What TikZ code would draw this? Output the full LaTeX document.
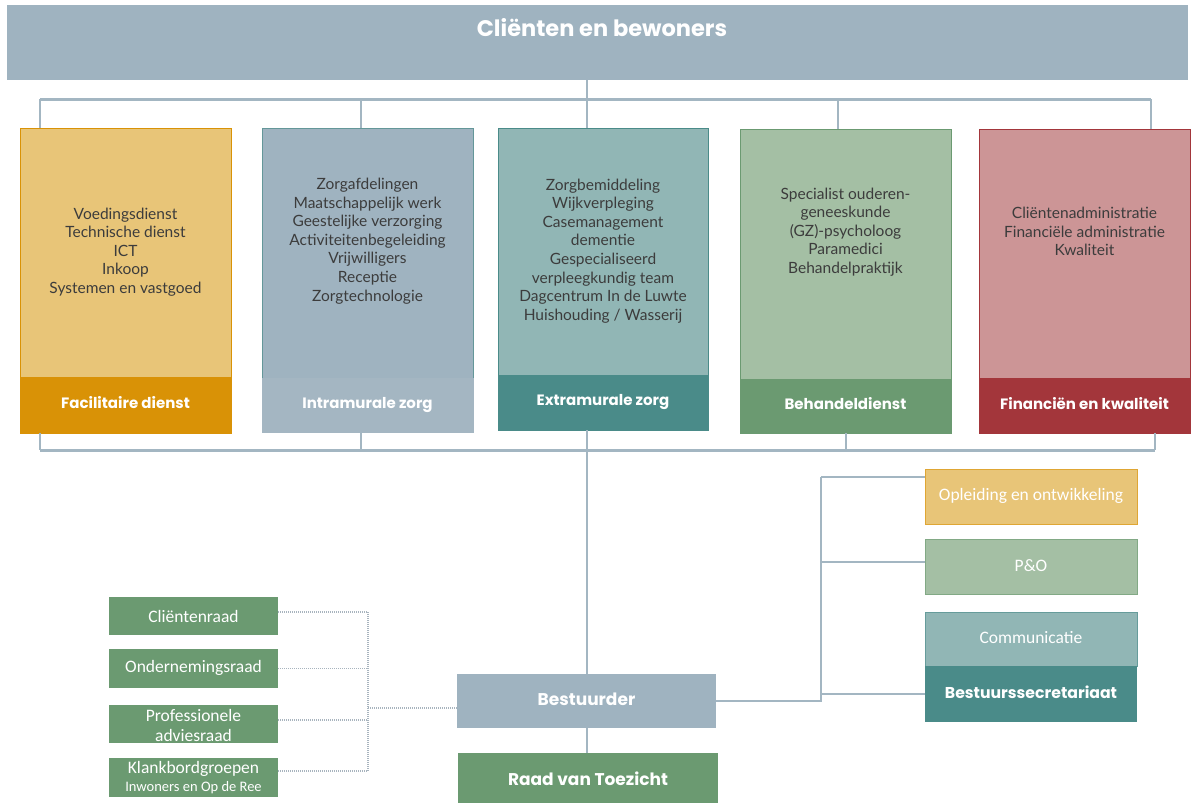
\documentclass[tikz,border=0pt]{standalone}
\usepackage{fontspec}
\setmainfont{Lato}
\newfontfamily\headfont{Poppins}
\newfontfamily\calfont{Carlito}

\definecolor{banner}{HTML}{9FB3C0}
\definecolor{yelL}{HTML}{E8C578}
\definecolor{yelD}{HTML}{D99206}
\definecolor{bluL}{HTML}{9FB3C0}
\definecolor{bluD}{HTML}{A4B6C2}
\definecolor{tealL}{HTML}{91B6B5}
\definecolor{tealD}{HTML}{4A8B89}
\definecolor{grnL}{HTML}{A4BFA4}
\definecolor{grnD}{HTML}{6B9A71}
\definecolor{redL}{HTML}{CC9596}
\definecolor{redD}{HTML}{A3363B}
\definecolor{wire}{HTML}{A3B6C2}
\definecolor{dotc}{HTML}{A8B4BE}
\definecolor{ink}{HTML}{3C3C3C}

\tikzset{
  box/.style={rectangle, inner sep=0pt, outer sep=0pt, anchor=north west, line width=0.8pt},
  bodytext/.style={font=\fontsize{15.5}{18.6}\selectfont, text=ink, align=center, inner sep=0pt},
  headtext/.style={font=\headfont\bfseries\fontsize{15}{17}\selectfont, text=white, inner sep=0pt},
  sidetext/.style={font=\calfont\fontsize{17.5}{20}\selectfont, text=white, inner sep=0pt},
  counciltext/.style={font=\calfont\fontsize{17.5}{20}\selectfont, text=white, align=center, inner sep=0pt},
  wire/.style={draw=wire, line width=1.3pt},
  bus/.style={draw=wire, line width=3pt},
  dots/.style={draw=dotc, line width=1.2pt, dash pattern=on 1pt off 1pt},
}

\begin{document}
\begin{tikzpicture}[x=1pt, y=-1pt]
\useasboundingbox (0,0) rectangle (1194,803);

% banner
\node[box, fill=banner, minimum width=1181pt, minimum height=75pt] (banner) at (7,5) {};
\node[font=\headfont\bfseries\fontsize{22.5}{26}\selectfont, text=white, inner sep=0pt] (title) at (602,28) {Cliënten en bewoners};

% department columns: body + header band
\node[box, fill=yelL, draw=yelD, minimum width=211pt, minimum height=249pt] (b1) at (20,128) {};
\node[box, fill=yelD, draw=yelD, minimum width=211pt, minimum height=56pt] (h1) at (20,377) {};
\node[box, fill=bluL, draw=tealD!70!bluL, minimum width=211pt, minimum height=250pt] (b2) at (262,128) {};
\node[box, fill=bluD, draw=bluD, minimum width=211pt, minimum height=54pt] (h2) at (262,378) {};
\node[box, fill=tealL, draw=tealD, minimum width=210pt, minimum height=247pt] (b3) at (498,128) {};
\node[box, fill=tealD, draw=tealD, minimum width=210pt, minimum height=55pt] (h3) at (498,375) {};
\node[box, fill=grnL, draw=grnD, minimum width=211pt, minimum height=250pt] (b4) at (740,129) {};
\node[box, fill=grnD, draw=grnD, minimum width=211pt, minimum height=54pt] (h4) at (740,379) {};
\node[box, fill=redL, draw=redD, minimum width=211pt, minimum height=249pt] (b5) at (979,129) {};
\node[box, fill=redD, draw=redD, minimum width=211pt, minimum height=55pt] (h5) at (979,378) {};

\node[headtext] (hl1) at (125.5,402.7) {Facilitaire dienst};
\node[headtext] (hl2) at (367.5,405) {Intramurale zorg};
\node[headtext] (hl3) at (603,401.7) {Extramurale zorg};
\node[headtext] (hl4) at (845.5,404) {Behandeldienst};
\node[headtext] (hl5) at (1084.5,404) {Financiën en kwaliteit};

\node[bodytext] (t1) at (125.5,252) {Voedingsdienst\\Technische dienst\\ICT\\Inkoop\\Systemen en vastgoed};
\node[bodytext] (t2) at (367.5,241) {Zorgafdelingen\\Maatschappelijk werk\\Geestelijke verzorging\\Activiteitenbegeleiding\\Vrijwilligers\\Receptie\\Zorgtechnologie};
\node[bodytext] (t3) at (603,251) {Zorgbemiddeling\\Wijkverpleging\\Casemanagement\\dementie\\Gespecialiseerd\\verpleegkundig team\\Dagcentrum In de Luwte\\Huishouding / Wasserij};
\node[bodytext] (t4) at (845.5,232) {Specialist ouderen-\\geneeskunde\\(GZ)-psycholoog\\Paramedici\\Behandelpraktijk};
\node[bodytext] (t5) at (1084.5,231.5) {Cliëntenadministratie\\Financiële administratie\\Kwaliteit};

% top distribution bus
\coordinate (tb) at (587,99);
\coordinate (u1) at (40,99);
\coordinate (u2) at (361,99);
\coordinate (u3) at (587,99);
\coordinate (u4) at (838,99);
\coordinate (u5) at (1151,99);
\draw[wire] (banner.south -| tb) -- (tb);
\draw[bus] (u1) -- (u5);
\foreach \i in {1,...,5} { \draw[wire] (u\i) -- (u\i |- b\i.north); }

% bottom collecting bus
\coordinate (l1) at (40,450);
\coordinate (l2) at (361,450);
\coordinate (l3) at (587,450);
\coordinate (l4) at (846,450);
\coordinate (l5) at (1155,450);
\foreach \i in {1,...,5} { \draw[wire] (h\i.south -| l\i) -- (l\i); }
\draw[bus] (l1) -- (l5);

% board
\node[box, fill=bluL, minimum width=259pt, minimum height=54pt] (best) at (457,674) {};
\node[headtext, font=\headfont\bfseries\fontsize{17}{20}\selectfont] (bestl) at (586.5,699) {Bestuurder};
\node[box, fill=grnD, minimum width=260pt, minimum height=50pt] (raad) at (458,753) {};
\node[headtext, font=\headfont\bfseries\fontsize{17}{20}\selectfont] (raadl) at (588,779) {Raad van Toezicht};
\draw[wire] (l3) -- (best.north -| l3);
\draw[wire] (best.south -| l3) -- (raad.north -| l3);

% staff units
\node[box, fill=yelL, draw=yelD!60!yelL, minimum width=212pt, minimum height=55pt] (opl) at (925,469) {};
\node[sidetext] (oplt) at (1031,495.7) {Opleiding en ontwikkeling};
\node[box, fill=grnL, draw=grnD!60!grnL, minimum width=212pt, minimum height=55pt] (po) at (925,539) {};
\node[sidetext] (pot) at (1031,566) {P\&O};
\node[box, fill=tealL, draw=tealD!60!tealL, minimum width=212pt, minimum height=54pt] (comm) at (925,612) {};
\node[sidetext] (commt) at (1031,638) {Communicatie};
\node[box, fill=tealD, minimum width=212pt, minimum height=56pt] (secr) at (925,666) {};
\node[headtext, font=\headfont\bfseries\fontsize{15.7}{18}\selectfont] (secrt) at (1031,692) {Bestuurssecretariaat};

\coordinate (rtop) at (821,477);
\coordinate (rmid) at (821,562);
\coordinate (rlow) at (821,694);
\draw[wire] (best.east) -| (rtop);
\draw[wire] (rtop) -- (rtop -| opl.west);
\draw[wire] (rmid) -- (rmid -| po.west);
\draw[wire] (rlow) -- (rlow -| secr.west);

% advisory councils
\node[box, fill=grnD, minimum width=169pt, minimum height=38pt] (cr) at (109,597) {};
\node[counciltext] (crt) at (193.5,616) {Cliëntenraad};
\node[box, fill=grnD, minimum width=169pt, minimum height=39pt] (or) at (109,649) {};
\node[counciltext] (ort) at (193.5,668) {Ondernemingsraad};
\node[box, fill=grnD, minimum width=169pt, minimum height=38pt] (par) at (109,705) {};
\node[counciltext] (part) at (193.5,725) {Professionele\\adviesraad};
\node[box, fill=grnD, minimum width=169pt, minimum height=39pt] (kb) at (109,758) {};
\node[counciltext] (kbt) at (193.5,769) {Klankbordgroepen};
\node[counciltext, font=\calfont\fontsize{14.5}{16}\selectfont] (kbs) at (193.5,788) {Inwoners en Op de Ree};

\coordinate (dtop) at (368,612);
\coordinate (dmid) at (368,708);
\coordinate (dbot) at (368,771);
\draw[dots] (dtop) -- (dbot);
\draw[dots] ([yshift=4pt]cr.east) -- (dtop);
\draw[dots] (or.east) -- (or.east -| dtop);
\draw[dots] ([yshift=4pt]par.east) -- ([yshift=4pt]par.east -| dtop);
\draw[dots] ([yshift=6.5pt]kb.east) -- (dbot);
\draw[dots] (dmid) -- (dmid -| best.west);
\end{tikzpicture}
\end{document}
